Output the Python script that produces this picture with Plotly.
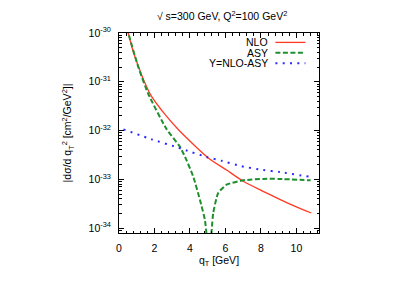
import plotly.graph_objects as go

# ---- data ----
q_nlo = [0.45, 0.52, 0.80, 1.09, 1.42, 1.80, 2.59, 3.34, 4.18, 5.03, 6.06, 7.00, 8.03, 9.06, 9.90, 10.84]
nlo = [1.26e-30, 1.0e-30, 4.17e-31, 2.09e-31, 1.02e-31, 5.25e-32, 2.14e-32, 1.05e-32,
       5.25e-33, 2.75e-33, 1.55e-33, 9.12e-34, 5.89e-34, 3.89e-34, 2.82e-34, 2.04e-34]

q_asy = [0.45, 0.52, 1.09, 1.65, 2.68, 3.43, 3.71, 4.18, 4.56, 4.84, 5.08, 5.31, 5.59, 6.06, 7.00, 8.12, 9.00, 10.80]
asy = [1.26e-30, 1.0e-30, 2.0e-31, 5.62e-32, 1.07e-32, 4.68e-33, 2.95e-33, 1.15e-33,
       3.80e-34, 1.48e-34, 2.5e-35, 2.04e-34, 5.25e-34, 7.76e-34, 9.55e-34, 1.02e-33, 1.02e-33, 9.55e-34]

q_y = [0.25, 1.84, 3.34, 3.81, 4.93, 5.78, 6.90, 8.12, 9.06, 10.80]
yval = [1.06e-32, 6.61e-33, 4.47e-33, 3.89e-33, 2.88e-33, 2.40e-33, 1.86e-33, 1.55e-33, 1.41e-33, 1.12e-33]

names = ["NLO", "ASY", "Y=NLO-ASY"]
colors = ["#ff3a24", "#1f8f2e", "#2a2aff"]

x_tickvals = [0, 2, 4, 6, 8, 10]
y_tickvals = [1e-34, 1e-33, 1e-32, 1e-31, 1e-30]
y_ticktext = ["10<sup>-34</sup>", "10<sup>-33</sup>", "10<sup>-32</sup>", "10<sup>-31</sup>", "10<sup>-30</sup>"]

FONT = "Liberation Sans, Arial, sans-serif"
FS = 10.5

fig = go.Figure()
fig.add_trace(go.Scatter(x=q_nlo, y=nlo, mode="lines", name=names[0],
                         line=dict(color=colors[0], width=1.3, shape="spline", smoothing=0.6)))
fig.add_trace(go.Scatter(x=q_asy, y=asy, mode="lines", name=names[1],
                         line=dict(color=colors[1], width=2, dash="5px,2.5px", shape="spline", smoothing=0.5)))
fig.add_trace(go.Scatter(x=q_y, y=yval, mode="lines", name=names[2],
                         line=dict(color=colors[2], width=2, dash="2px,5.3px", shape="spline", smoothing=0.5)))

# gnuplot-like legend (text right-aligned, key sample to the right)
rows = [0.953, 0.901, 0.849]
dashes = ["solid", "5px,2.5px", "2px,5.3px"]
widths = [1.3, 2, 2]
for nm, c, yy, d, w in zip(names, colors, rows, dashes, widths):
    fig.add_annotation(x=0.750, y=yy, xref="paper", yref="paper", text=nm, showarrow=False,
                       xanchor="right", yanchor="middle", borderpad=0,
                       font=dict(family=FONT, size=FS, color="black"))
    fig.add_shape(type="line", xref="paper", yref="paper", x0=0.782, x1=0.932, y0=yy, y1=yy,
                  line=dict(color=c, width=w, dash=d))

axis_common = dict(showline=True, linecolor="black", linewidth=1, mirror="allticks",
                   ticks="inside", tickcolor="black", showgrid=False, zeroline=False,
                   automargin=False,
                   tickfont=dict(family=FONT, size=FS, color="black"))

fig.update_xaxes(range=[0, 11.27], tickvals=x_tickvals, ticklen=5, ticklabelstandoff=5,
                 minor=dict(ticks="inside", dtick=0.4, ticklen=2.5, tickcolor="black", tick0=0),
                 title=dict(text="q<sub>T</sub> [GeV]", font=dict(family=FONT, size=FS, color="black"), standoff=2),
                 **axis_common)
fig.update_yaxes(type="log", range=[-34.1, -30], tickvals=y_tickvals, ticktext=y_ticktext, ticklen=5,
                 minor=dict(ticks="inside", dtick="D1", ticklen=2.5, tickcolor="black"),
                 ticklabelstandoff=5,
                 title=dict(text="|dσ/d q<sub>T</sub><sup>2</sup> [cm<sup>2</sup>/GeV<sup>2</sup>]|",
                            font=dict(family=FONT, size=FS, color="black"), standoff=14),
                 **axis_common)

# page body has an 8px default margin, so the figure is sized to fit the window
fig.update_layout(
    width=395, height=274,
    margin=dict(l=111, r=84, t=25, b=49, pad=0, autoexpand=False),
    paper_bgcolor="white", plot_bgcolor="white",
    showlegend=False,
    title=dict(text="√ s=300 GeV, Q<sup>2</sup>=100 GeV<sup>2</sup>", x=0.542, xanchor="center",
               y=0.968, yanchor="middle", font=dict(family=FONT, size=FS, color="black"),
               automargin=False),
    font=dict(family=FONT, size=FS, color="black"),
)

fig.write_html("out.html")
